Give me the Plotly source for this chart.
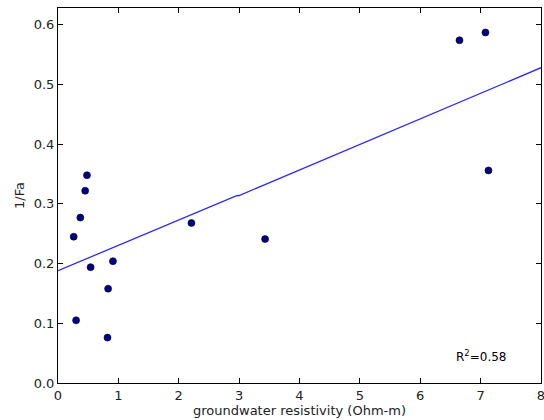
import plotly.graph_objects as go

resistivity = [0.26, 0.30, 0.37, 0.45, 0.48, 0.54, 0.83, 0.82, 0.91, 2.21, 3.43, 6.65, 7.08, 7.13]
inv_fa = [0.245, 0.105, 0.277, 0.322, 0.348, 0.194, 0.158, 0.076, 0.204, 0.268, 0.241, 0.574, 0.587, 0.356]
fit_x = [0, 2.95, 3.0, 8]
fit_y = [0.188, 0.3135, 0.3140, 0.528]
x_ticks = [0, 1, 2, 3, 4, 5, 6, 7, 8]
y_ticks = [0.0, 0.1, 0.2, 0.3, 0.4, 0.5, 0.6]

font = "DejaVu Sans"
fig = go.Figure()
fig.add_trace(go.Scatter(x=fit_x, y=fit_y, mode="lines",
                         line=dict(color="#2a2af0", width=1.3), showlegend=False))
fig.add_trace(go.Scatter(x=resistivity, y=inv_fa, mode="markers",
                         marker=dict(color="#00008b", size=7, line=dict(color="black", width=0.6)),
                         showlegend=False, cliponaxis=False))
fig.add_annotation(x=7.0, y=0.045, text="R<sup>2</sup>=0.58", showarrow=False,
                   font=dict(family=font, size=12, color="black"))
axis = dict(showline=True, linecolor="black", linewidth=1, mirror="allticks",
            ticks="inside", ticklen=5, tickcolor="black", showgrid=False, zeroline=False,
            automargin=False, ticklabeloverflow="allow",
            tickfont=dict(family=font, size=13, color="#222"))
fig.update_layout(
    width=544, height=420, margin=dict(l=58, r=3, t=8, b=37),
    paper_bgcolor="white", plot_bgcolor="white",
    xaxis=dict(axis, range=[0, 8], tickvals=x_ticks, ticktext=[str(v) for v in x_ticks],
               title=dict(text="groundwater resistivity (Ohm-m)", standoff=0,
                          font=dict(family=font, size=13, color="#222"))),
    yaxis=dict(axis, range=[0, 0.628], tickvals=y_ticks, ticktext=[f"{v:.1f}" for v in y_ticks],
               title=dict(text="1/Fa", standoff=6, font=dict(family=font, size=13, color="#222"))),
)
fig.write_html("out.html", config={"displayModeBar": False},
               post_script="document.body.style.margin='0';document.body.style.overflow='hidden';")
